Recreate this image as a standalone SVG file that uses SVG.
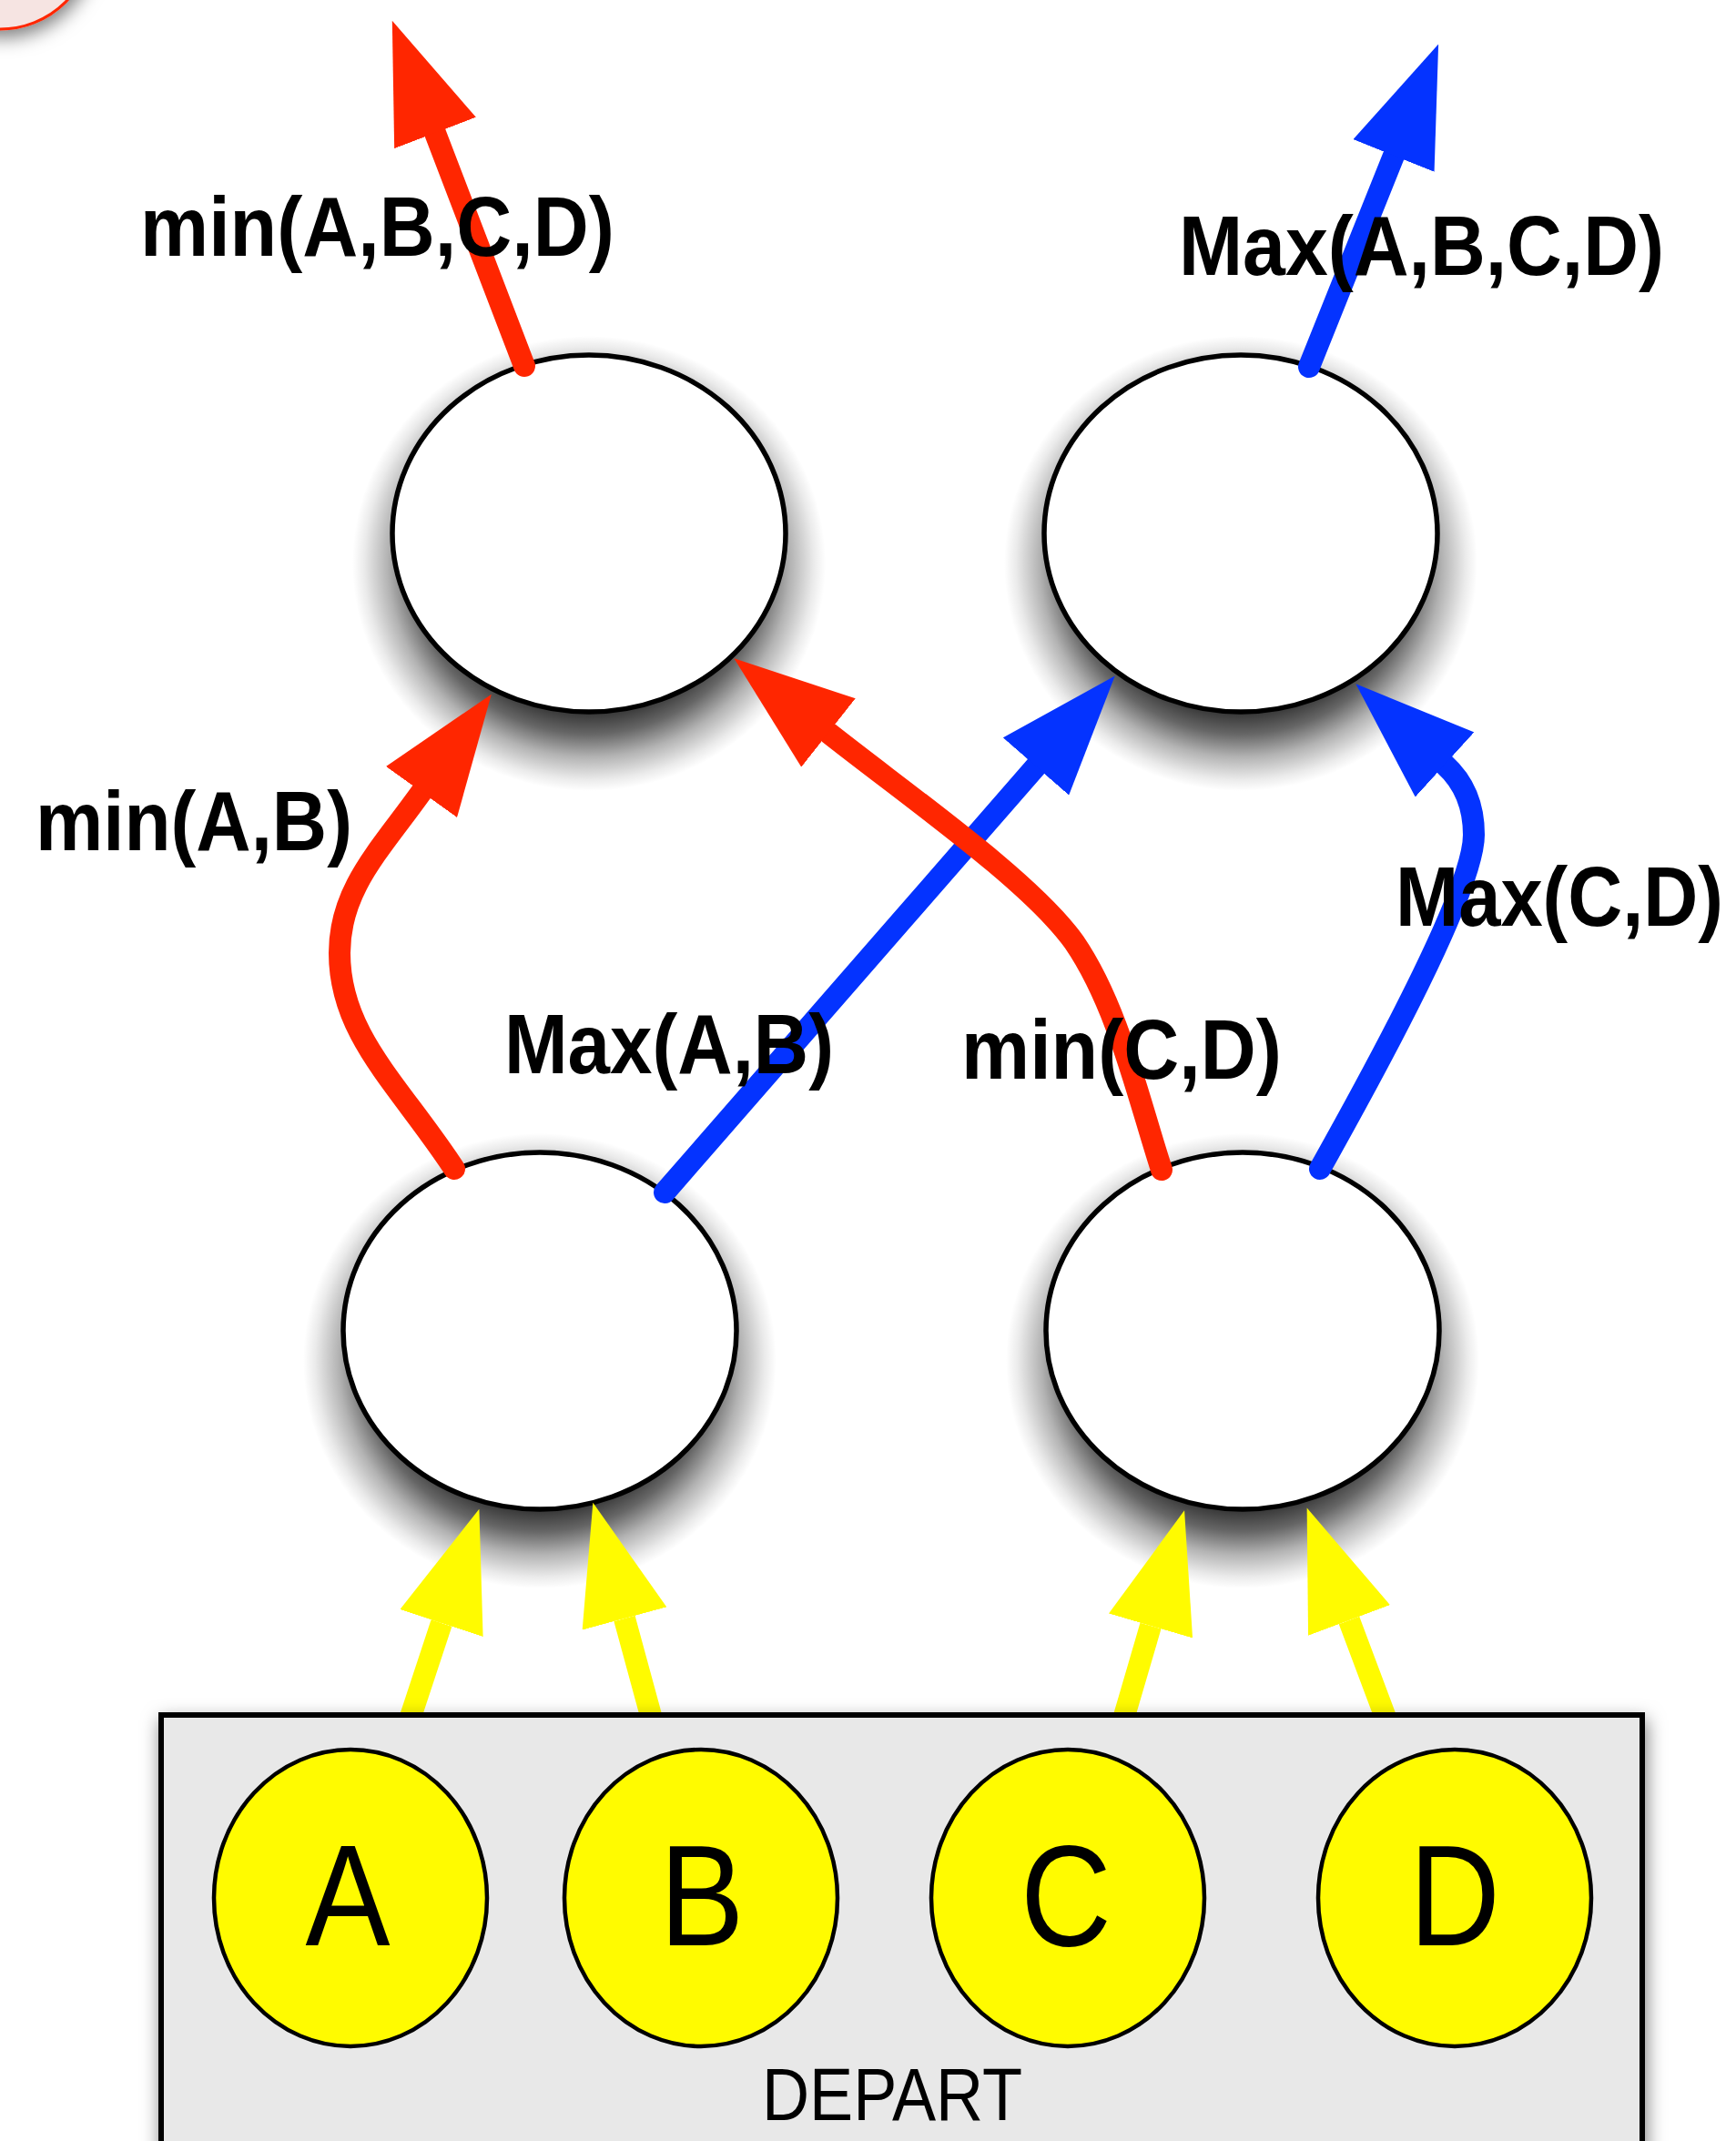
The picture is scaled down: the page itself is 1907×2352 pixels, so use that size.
<svg xmlns="http://www.w3.org/2000/svg" width="1907" height="2352" viewBox="0 0 1907 2352">
<style>
  .node { fill: #ffffff; stroke: #000000; stroke-width: 5.5; }
  .shade { fill: url(#shade-grad); }
  .input { fill: #fffb00; stroke: #000000; stroke-width: 4.5; }
  .wire { fill: none; stroke-width: 24; stroke-linecap: round; }
  .red { stroke: #ff2600; marker-end: url(#ah-red); }
  .blue { stroke: #0433ff; marker-end: url(#ah-blue); }
  .yellow { stroke: #fffb00; stroke-linecap: butt; marker-end: url(#ah-yellow); }
  .lbl { font-family: "Liberation Sans", Arial, Helvetica, sans-serif; font-weight: bold; font-size: 92px; fill: #000000; }
  .letter { font-family: "Liberation Sans", Arial, Helvetica, sans-serif; font-size: 158px; fill: #000000; text-anchor: middle; }
  .depart { font-family: "Liberation Sans", Arial, Helvetica, sans-serif; font-size: 81px; fill: #000000; text-anchor: middle; }
</style>
<defs>
  <radialGradient id="shade-grad" cx="0.5" cy="0.5" r="0.5">
    <stop offset="0" stop-color="#000000" stop-opacity="0.85"/>
    <stop offset="0.65" stop-color="#000000" stop-opacity="0.8"/>
    <stop offset="0.75" stop-color="#000000" stop-opacity="0.6"/>
    <stop offset="0.85" stop-color="#000000" stop-opacity="0.3"/>
    <stop offset="0.95" stop-color="#000000" stop-opacity="0.08"/>
    <stop offset="1" stop-color="#000000" stop-opacity="0"/>
  </radialGradient>
  <filter id="shadow-soft" x="-10%" y="-10%" width="120%" height="130%">
    <feDropShadow dx="2" dy="8" stdDeviation="10" flood-color="#000000" flood-opacity="0.5"/>
  </filter>
  <marker id="ah-red" markerUnits="userSpaceOnUse" viewBox="0 0 132 96" markerWidth="132" markerHeight="96" refX="0" refY="48" orient="auto">
    <path d="M0,0 L132,48 L0,96 Z" fill="#ff2600"/>
  </marker>
  <marker id="ah-blue" markerUnits="userSpaceOnUse" viewBox="0 0 132 96" markerWidth="132" markerHeight="96" refX="0" refY="48" orient="auto">
    <path d="M0,0 L132,48 L0,96 Z" fill="#0433ff"/>
  </marker>
  <marker id="ah-yellow" markerUnits="userSpaceOnUse" viewBox="0 0 132 96" markerWidth="132" markerHeight="96" refX="0" refY="48" orient="auto">
    <path d="M0,0 L132,48 L0,96 Z" fill="#fffb00"/>
  </marker>
</defs>

<rect x="0" y="0" width="1907" height="2352" fill="#ffffff"/>

<g id="node-corner">
  <circle cx="0" cy="-70" r="102" fill="#f6e4e2" stroke="#ff2600" stroke-width="3" filter="url(#shadow-soft)"/>
</g>

<g id="node-min-top">
  <ellipse class="shade" cx="647" cy="619" rx="260" ry="250"/>
  <ellipse class="node" cx="647" cy="586" rx="216" ry="196"/>
</g>
<g id="node-max-top">
  <ellipse class="shade" cx="1363" cy="619" rx="260" ry="250"/>
  <ellipse class="node" cx="1363" cy="586" rx="216" ry="196"/>
</g>
<g id="node-ab">
  <ellipse class="shade" cx="593" cy="1495" rx="260" ry="250"/>
  <ellipse class="node" cx="593" cy="1462" rx="216" ry="196"/>
</g>
<g id="node-cd">
  <ellipse class="shade" cx="1365" cy="1495" rx="260" ry="250"/>
  <ellipse class="node" cx="1365" cy="1462" rx="216" ry="196"/>
</g>

<g id="connectors">
  <path class="wire red" d="M576,402 L478,146"/>
  <path class="wire blue" d="M1438,403 L1531,171"/>
  <path class="wire red" d="M499,1284 C438,1191 373,1137 373,1047 C373,977 416.5,935 463,870"/>
  <path class="wire blue" d="M730,1310 L1138,842"/>
  <path class="wire red" d="M1276,1285 C1250,1205 1228,1105 1180,1035 C1132,968 1000,876 910,805"/>
  <path class="wire blue" d="M1450,1284 C1515,1168 1619,977 1619,917 C1619,887 1609,860 1587,840"/>
  <path class="wire yellow" d="M449,1892 L485,1783"/>
  <path class="wire yellow" d="M717,1892 L686,1778"/>
  <path class="wire yellow" d="M1233,1892 L1264,1786"/>
  <path class="wire yellow" d="M1524,1892 L1482,1780"/>

  <text class="lbl" x="154" y="281" textLength="521" lengthAdjust="spacingAndGlyphs">min(A,B,C,D)</text>
  <text class="lbl" x="1295" y="302" textLength="533" lengthAdjust="spacingAndGlyphs">Max(A,B,C,D)</text>
  <text class="lbl" x="39" y="934" textLength="348" lengthAdjust="spacingAndGlyphs">min(A,B)</text>
  <text class="lbl" x="554" y="1179" textLength="362" lengthAdjust="spacingAndGlyphs">Max(A,B)</text>
  <text class="lbl" x="1056" y="1185" textLength="352" lengthAdjust="spacingAndGlyphs">min(C,D)</text>
  <text class="lbl" x="1533" y="1017" textLength="360" lengthAdjust="spacingAndGlyphs">Max(C,D)</text>
</g>

<g id="depart">
  <rect x="177" y="1884" width="1627" height="500" fill="#e8e8e8" stroke="#000000" stroke-width="6" filter="url(#shadow-soft)"/>
  <text class="depart" x="980" y="2329" textLength="286" lengthAdjust="spacingAndGlyphs">DEPART</text>
</g>

<g id="input-a">
  <ellipse class="input" cx="385" cy="2085" rx="150" ry="163"/>
  <text class="letter" x="382" y="2137" textLength="93" lengthAdjust="spacingAndGlyphs">A</text>
</g>
<g id="input-b">
  <ellipse class="input" cx="770" cy="2085" rx="150" ry="163"/>
  <text class="letter" x="771" y="2137" textLength="93" lengthAdjust="spacingAndGlyphs">B</text>
</g>
<g id="input-c">
  <ellipse class="input" cx="1173" cy="2085" rx="150" ry="163"/>
  <text class="letter" x="1171" y="2137" textLength="100" lengthAdjust="spacingAndGlyphs">C</text>
</g>
<g id="input-d">
  <ellipse class="input" cx="1598" cy="2085" rx="150" ry="163"/>
  <text class="letter" x="1598" y="2137" textLength="100" lengthAdjust="spacingAndGlyphs">D</text>
</g>
</svg>
